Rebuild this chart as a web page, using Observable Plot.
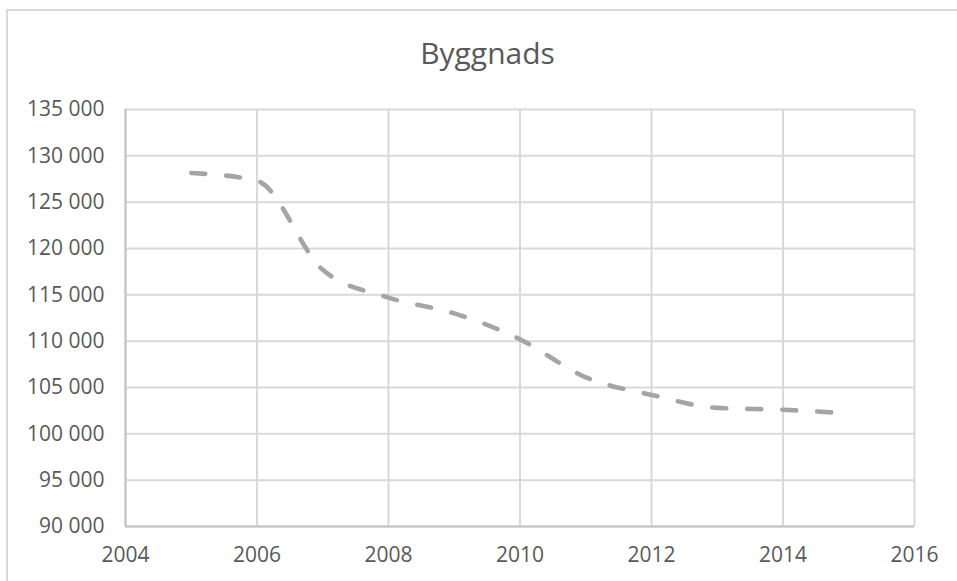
<!DOCTYPE html>
<html>
<head>
<meta charset="utf-8">
<script src="https://cdn.jsdelivr.net/npm/d3@7"></script>
<script src="https://cdn.jsdelivr.net/npm/@observablehq/plot@0.6"></script>
<style>
  html, body { margin: 0; padding: 0; background: #fff; }
  #wrap { position: relative; width: 957px; height: 581px; overflow: hidden; font-family: "Open Sans", sans-serif; }
  #frame { position: absolute; left: 6px; top: 9px; width: 960px; height: 600px; border-left: 2px solid #d9d9d9; border-top: 2px solid #d9d9d9; box-sizing: border-box; }
  #title { position: absolute; left: 0; width: 975px; top: 33px; text-align: center; font-size: 30px; color: #595959; line-height: 40px; }
  #chart { position: absolute; left: 0; top: 0; }
</style>
</head>
<body>
<div id="wrap">
  <div id="frame"></div>
  <div id="title">Byggnads</div>
  <div id="chart"></div>
</div>
<script>
const title = "Byggnads";
const years = [2005, 2006, 2007, 2008, 2009, 2010, 2011, 2012, 2013, 2014, 2015];
const values = [128150, 127300, 117700, 114700, 113000, 110200, 106100, 104200, 102800, 102600, 102200];
const yTicks = [90000, 95000, 100000, 105000, 110000, 115000, 120000, 125000, 130000, 135000];
const xTicks = [2004, 2006, 2008, 2010, 2012, 2014, 2016];

const data = years.map((y, i) => ({year: y, value: values[i]}));
const fmt = d3.formatLocale({decimal: ",", thousands: " ", grouping: [3], currency: ["", " kr"]}).format(",d");
const yearFmt = d => String(d);

document.getElementById("title").textContent = title;

const chart = Plot.plot({
  width: 957,
  height: 581,
  marginLeft: 125,
  marginRight: 43,
  marginTop: 109,
  marginBottom: 55,
  style: {fontFamily: "Open Sans, sans-serif", fontSize: "21px", color: "#595959", background: "transparent"},
  x: {domain: [2004, 2016], label: null},
  y: {domain: [90000, 135000], label: null},
  marks: [
    Plot.gridY(yTicks, {stroke: "#d9d9d9", strokeOpacity: 1, strokeWidth: 2}),
    Plot.gridX(xTicks, {stroke: "#d9d9d9", strokeOpacity: 1, strokeWidth: 2}),
    Plot.ruleY([yTicks[0]], {stroke: "#c4c4c4", strokeWidth: 2}),
    Plot.ruleX([xTicks[0]], {stroke: "#c4c4c4", strokeWidth: 2}),
    Plot.axisY(yTicks, {tickSize: 0, tickPadding: 21, fill: "#595959", fontSize: 21, tickFormat: fmt, label: null}),
    Plot.axisX(xTicks, {tickSize: 0, tickPadding: 21, fill: "#595959", fontSize: 21, tickFormat: yearFmt, label: null}),
    Plot.line(data, {x: "year", y: "value", stroke: "#a5a5a5", strokeWidth: 4.6, strokeDasharray: "14 21", strokeLinecap: "round", curve: "monotone-x"})
  ]
});
document.getElementById("chart").appendChild(chart);
</script>
</body>
</html>
